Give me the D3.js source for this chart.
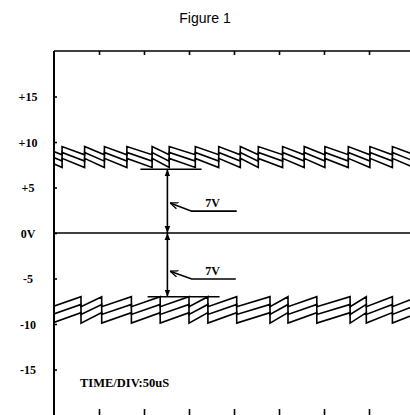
<!DOCTYPE html>
<html>
<head>
<meta charset="utf-8">
<script src="https://cdn.jsdelivr.net/npm/d3@7"></script>
<style>
  html, body { margin: 0; padding: 0; background: #fff; }
  svg { display: block; }
</style>
</head>
<body>
<svg id="chart" width="410" height="415"></svg>
<script>
// ---------- data ----------
const title = "Figure 1";
const timeDivLabel = "TIME/DIV:50uS";
const xTickValues = [50, 100, 150, 200, 250, 300, 350, 400, 450];      // µs (50 µs / div)
const yTickValues = [15, 10, 5, 0, -5, -10, -15];
const yTickLabels = ["+15", "+10", "+5", "0V", "-5", "-10", "-15"];

// upper sawtooth (falling ramps), jump instants in µs
const upperJumps = [-14, 9, 34, 56, 81, 109, 128, 157, 183, 207, 227, 254, 278, 301, 327, 351, 376, 400];
const upperHigh = [9.5, 8.85, 8.2];
const upperLow  = [8.6, 7.9, 7.2];

// lower sawtooth (rising ramps), jump instants in µs
const lowerJumps = [-2, 30, 53, 86, 118, 150, 171, 203, 240, 260, 292, 329, 347, 376, 405];
const lowerLow  = [-8.1, -8.95, -9.9];
const lowerHigh = [-7.0, -7.85, -8.75];

// annotations (µs, volts)
const refLevel = 7;
const upperRefSpan = [96, 164];
const lowerRefSpan = [104, 184];
const arrowX = 126;
const annotLabel = "7V";
const upperLeader = [[129, 3.3], [153, 2.4], [203, 2.4]];
const lowerLeader = [[129, -4.2], [153, -5.05], [202, -5.05]];
const upperLabelPos = [168, 2.85];
const lowerLabelPos = [168, -4.6];

// ---------- drawing ----------
const svg = d3.select("#chart");
const W = 410, H = 415;
const plotLeft = 54, plotTop = 51, plotBottom = 415;
const SW = 1.6;

const x = d3.scaleLinear().domain([0, 500]).range([plotLeft, plotLeft + 450]);
const y = d3.scaleLinear().domain([-20, 20]).range([plotBottom, plotTop]);

const defs = svg.append("defs");
defs.append("clipPath").attr("id", "plotclip")
  .append("rect").attr("x", plotLeft).attr("y", plotTop).attr("width", W - plotLeft).attr("height", plotBottom - plotTop);

defs.append("marker").attr("id", "ah")
  .attr("viewBox", "0 0 10 10").attr("refX", 10).attr("refY", 5)
  .attr("markerWidth", 7).attr("markerHeight", 7).attr("markerUnits", "userSpaceOnUse")
  .attr("orient", "auto-start-reverse")
  .append("path").attr("d", "M0,1 L10,5 L0,9 Z").attr("fill", "#000");

defs.append("marker").attr("id", "ah2")
  .attr("viewBox", "0 0 10 10").attr("refX", 10).attr("refY", 5)
  .attr("markerWidth", 8).attr("markerHeight", 8).attr("markerUnits", "userSpaceOnUse")
  .attr("orient", "auto-start-reverse")
  .append("path").attr("d", "M0,1 L10,5 L0,9").attr("fill", "none").attr("stroke", "#000").attr("stroke-width", 1.6);

// title
svg.append("text").attr("x", 205).attr("y", 23).attr("text-anchor", "middle")
  .attr("font-family", "Liberation Sans, Arial, sans-serif").attr("font-size", 14).attr("fill", "#000")
  .text(title);

// frame: left axis + top border
svg.append("line").attr("x1", plotLeft).attr("x2", plotLeft).attr("y1", plotTop).attr("y2", plotBottom)
  .attr("stroke", "#000").attr("stroke-width", 2);
svg.append("line").attr("x1", plotLeft).attr("x2", W).attr("y1", plotTop).attr("y2", plotTop)
  .attr("stroke", "#000").attr("stroke-width", SW);

// top ticks
const topAxis = svg.append("g").attr("transform", `translate(0,${plotTop})`)
  .call(d3.axisTop(x).tickValues(xTickValues).tickSize(-4).tickFormat(""));
topAxis.select(".domain").remove();
topAxis.selectAll("line").attr("stroke", "#000").attr("stroke-width", SW);

// bottom ticks
const botAxis = svg.append("g").attr("transform", `translate(0,${plotBottom})`)
  .call(d3.axisBottom(x).tickValues(xTickValues).tickSize(-6).tickFormat(""));
botAxis.select(".domain").remove();
botAxis.selectAll("line").attr("stroke", "#000").attr("stroke-width", SW);

// left ticks and labels
const leftAxis = svg.append("g").attr("transform", `translate(${plotLeft},0)`)
  .call(d3.axisLeft(y).tickValues(yTickValues).tickSize(-3).tickPadding(0)
    .tickFormat((d, i) => yTickLabels[i]));
leftAxis.select(".domain").remove();
leftAxis.selectAll("line").attr("stroke", "#000").attr("stroke-width", SW);
leftAxis.selectAll("text")
  .attr("x", 28 - plotLeft).attr("text-anchor", "middle").attr("dy", "0.35em")
  .attr("font-family", "Liberation Serif, Times New Roman, serif").attr("font-weight", "bold")
  .attr("font-size", 12).attr("fill", "#000");

// zero line
svg.append("line").attr("x1", plotLeft).attr("x2", W).attr("y1", y(0)).attr("y2", y(0))
  .attr("stroke", "#000").attr("stroke-width", SW);

// waveforms
const line = d3.line().x(d => x(d[0])).y(d => y(d[1]));
const plot = svg.append("g").attr("clip-path", "url(#plotclip)");

function sawPoints(jumps, startV, endV) {
  const pts = [];
  for (let i = 0; i < jumps.length - 1; i++) {
    pts.push([jumps[i], startV]);
    pts.push([jumps[i + 1], endV]);
  }
  return pts;
}
upperHigh.forEach((h, k) => {
  plot.append("path").attr("d", line(sawPoints(upperJumps, h, upperLow[k])))
    .attr("fill", "none").attr("stroke", "#000").attr("stroke-width", SW);
});
lowerLow.forEach((l, k) => {
  plot.append("path").attr("d", line(sawPoints(lowerJumps, l, lowerHigh[k])))
    .attr("fill", "none").attr("stroke", "#000").attr("stroke-width", SW);
});

// reference lines at ±7 V
svg.append("line").attr("x1", x(upperRefSpan[0])).attr("x2", x(upperRefSpan[1]))
  .attr("y1", y(refLevel)).attr("y2", y(refLevel)).attr("stroke", "#000").attr("stroke-width", SW);
svg.append("line").attr("x1", x(lowerRefSpan[0])).attr("x2", x(lowerRefSpan[1]))
  .attr("y1", y(-refLevel)).attr("y2", y(-refLevel)).attr("stroke", "#000").attr("stroke-width", SW);

// double arrows
svg.append("line").attr("x1", x(arrowX)).attr("x2", x(arrowX)).attr("y1", y(0)).attr("y2", y(refLevel))
  .attr("stroke", "#000").attr("stroke-width", SW)
  .attr("marker-start", "url(#ah)").attr("marker-end", "url(#ah)");
svg.append("line").attr("x1", x(arrowX)).attr("x2", x(arrowX)).attr("y1", y(0)).attr("y2", y(-refLevel))
  .attr("stroke", "#000").attr("stroke-width", SW)
  .attr("marker-start", "url(#ah)").attr("marker-end", "url(#ah)");

// leaders
const leaderLine = d3.line().x(d => x(d[0])).y(d => y(d[1]));
[upperLeader, lowerLeader].forEach(pts => {
  svg.append("path").attr("d", leaderLine(pts)).attr("fill", "none")
    .attr("stroke", "#000").attr("stroke-width", SW).attr("marker-start", "url(#ah2)");
});
[upperLabelPos, lowerLabelPos].forEach(p => {
  svg.append("text").attr("x", x(p[0])).attr("y", y(p[1]))
    .attr("font-family", "Liberation Serif, Times New Roman, serif").attr("font-weight", "bold")
    .attr("font-size", 12).attr("fill", "#000").text(annotLabel);
});

// time/div label
svg.append("text").attr("x", 80).attr("y", 387)
  .attr("font-family", "Liberation Serif, Times New Roman, serif").attr("font-weight", "bold")
  .attr("font-size", 12.5).attr("fill", "#000").text(timeDivLabel);
</script>
</body>
</html>
